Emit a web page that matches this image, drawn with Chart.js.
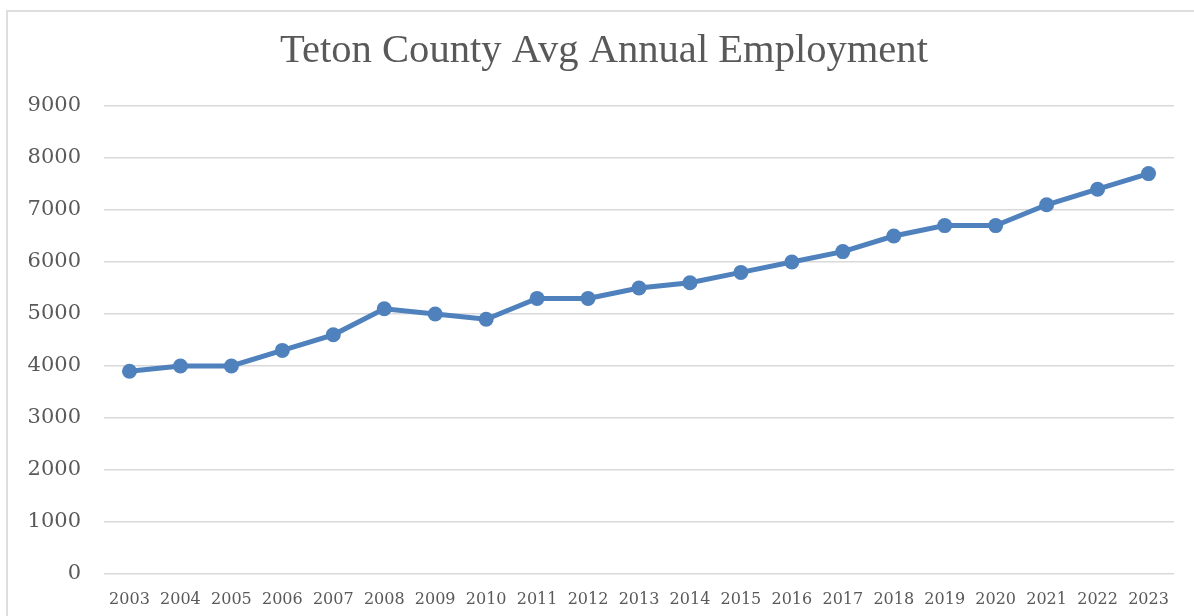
<!DOCTYPE html>
<html>
<head>
<meta charset="utf-8">
<script src="https://cdn.jsdelivr.net/npm/chart.js@4/dist/chart.umd.min.js"></script>
<style>
  html, body { margin: 0; padding: 0; background: #ffffff; overflow: hidden; }
  #frame {
    position: absolute; left: 6px; top: 10px; width: 1200px; height: 620px;
    border: 2px solid #dedede; box-sizing: border-box;
  }
  #chart { position: absolute; left: 0; top: 0; }
</style>
</head>
<body>
<div id="frame"></div>
<canvas id="chart" width="1194" height="616"></canvas>
<script>
// Average annual employment, Teton County
const years = ['2003','2004','2005','2006','2007','2008','2009','2010','2011','2012','2013',
               '2014','2015','2016','2017','2018','2019','2020','2021','2022','2023'];
const employment = [3900, 4000, 4000, 4300, 4600, 5100, 5000, 4900, 5300, 5300, 5500,
                    5600, 5800, 6000, 6200, 6500, 6700, 6700, 7100, 7400, 7700];
const yTicks = [0, 1000, 2000, 3000, 4000, 5000, 6000, 7000, 8000, 9000];
const chartTitle = 'Teton County Avg Annual Employment';

const textColor = '#595959';
const lineColor = '#4F81BD';

// Title centred on the outer frame rather than on the padded layout box
const frameTitle = {
  id: 'frameTitle',
  afterDraw(chart) {
    const ctx = chart.ctx;
    ctx.save();
    ctx.fillStyle = textColor;
    ctx.font = '40.6px "Liberation Serif", serif';
    ctx.textAlign = 'center';
    ctx.textBaseline = 'middle';
    ctx.fillText(chartTitle, 604, 51.5);
    ctx.restore();
  }
};

new Chart(document.getElementById('chart'), {
  type: 'line',
  data: {
    labels: years,
    datasets: [{
      data: employment,
      borderColor: lineColor,
      backgroundColor: lineColor,
      borderWidth: 5,
      pointRadius: 7.5,
      pointBorderWidth: 0,
      pointBackgroundColor: lineColor,
      tension: 0,
      clip: false
    }]
  },
  plugins: [frameTitle],
  options: {
    responsive: false,
    animation: false,
    devicePixelRatio: 1,
    layout: { padding: { left: 8, right: 20, top: 106, bottom: 0 } },
    plugins: {
      legend: { display: false },
      tooltip: { enabled: false },
      title: { display: false }
    },
    scales: {
      x: {
        offset: true,
        grid: { display: false, drawTicks: false },
        border: { display: false },
        ticks: {
          color: textColor,
          font: { family: '"DejaVu Serif", serif', size: 16 },
          padding: 16,
          maxRotation: 0,
          autoSkip: false
        },
        afterFit: (scale) => { scale.height = 42; }
      },
      y: {
        min: yTicks[0],
        max: yTicks[yTicks.length - 1],
        afterBuildTicks: (scale) => { scale.ticks = yTicks.map(v => ({ value: v })); },
        grid: { color: '#d9d9d9', lineWidth: 1.5, drawTicks: false },
        border: { display: false },
        ticks: {
          color: textColor,
          font: { family: '"DejaVu Serif", serif', size: 21 },
          padding: 23,
          callback: (v) => String(v)
        },
        afterFit: (scale) => { scale.width = 96; }
      }
    }
  }
});
</script>
</body>
</html>
